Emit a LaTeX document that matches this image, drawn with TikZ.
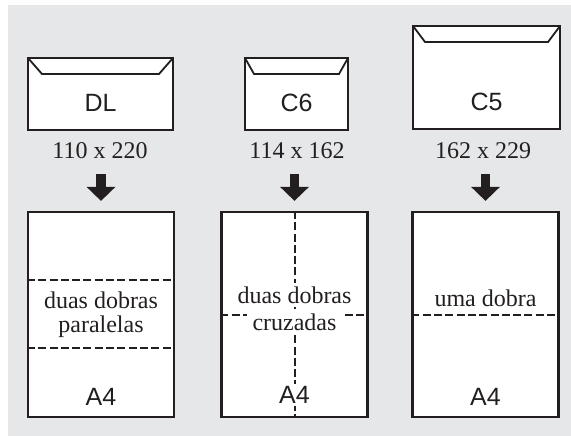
\documentclass[tikz,border=0pt]{standalone}
\usepackage{fontspec}
\setmainfont{Liberation Serif}
\setsansfont{Liberation Sans}
\usetikzlibrary{arrows.meta,positioning,calc}
\definecolor{fundo}{HTML}{E6E7E8}
\definecolor{tinta}{HTML}{231F20}

\begin{document}
\begin{tikzpicture}[x=1pt, y=-1pt,
 env/.style={draw=tinta, line width=2.2pt, fill=white, inner sep=0pt, outer sep=0pt},
 aba/.style={draw=tinta, line width=1.8pt, line join=miter},
 folha/.style={draw=tinta, line width=2.2pt, fill=white, minimum width=146pt,
   minimum height=205pt, inner sep=0pt},
 dobra/.style={draw=tinta, line width=2pt, dash pattern=on 8pt off 3.3pt},
 sigla/.style={font=\sffamily\fontsize{25}{28}\selectfont, text=tinta},
 txt/.style={font=\fontsize{24}{24}\selectfont, text=tinta, align=center},
 seta/.style={draw=tinta, line width=9.5pt, -{Triangle[width=28pt,length=14pt]},
   shorten <=15pt, shorten >=10pt}]
\useasboundingbox (0,0) rectangle (571,436);
\fill[fundo] (8,5) rectangle (571,436);
% envelopes
\node[env, minimum width=145pt, minimum height=72pt] (envDL) at (100.5,94) {};
\draw[aba] (envDL.north west) -- ++(14,16) -- ($(envDL.north east)+(-14,16)$) -- (envDL.north east);
\node[sigla] (sDL) at (100.5,103) {DL};
\node[env, minimum width=103pt, minimum height=72pt] (envC6) at (296.5,94) {};
\draw[aba] (envC6.north west) -- ++(9,16) -- ($(envC6.north east)+(-9,16)$) -- (envC6.north east);
\node[sigla] (sC6) at (296.5,103) {C6};
\node[env, minimum width=147pt, minimum height=103pt] (envC5) at (486.5,77.5) {};
\draw[aba] (envC5.north west) -- ++(12,16) -- ($(envC5.north east)+(-12,16)$) -- (envC5.north east);
\node[sigla] (sC5) at (486.5,102) {C5};
% medidas
\node[txt, inner sep=0pt] (med1) at (100,151) {110 x 220};
\node[txt, inner sep=0pt] (med2) at (297,151) {114 x 162};
\node[txt, inner sep=0pt] (med3) at (483,151) {162 x 229};
% folhas A4
\node[folha] (folha1) at (101,314.5) {};
\node[folha] (folha2) at (294.5,314.5) {};
\node[folha] (folha3) at (485.5,314.5) {};
% dobras
\draw[dobra] (folha1.west |- 0,280) -- (folha1.east |- 0,280);
\draw[dobra] (folha1.west |- 0,348) -- (folha1.east |- 0,348);
\draw[dobra] (folha2.north) -- (folha2.south);
\draw[dobra] (folha2.west) -- (folha2.east);
\draw[dobra] (folha3.west) -- (folha3.east);
% textos das folhas
\node[txt] (t1) at (101,315) {duas dobras\\paralelas};
\node[txt, fill=white, inner xsep=1pt, inner ysep=4pt] (t2a) at (294.5,295) {duas dobras};
\node[txt, fill=white, inner xsep=6pt, inner ysep=3pt] (t2b) at (294.5,322) {cruzadas};
\node[txt] (t3) at (485.5,298) {uma dobra};
\node[sigla] (a1) at (101,397) {A4};
\node[sigla, fill=white, inner sep=2pt] (a2) at (294.5,395) {A4};
\node[sigla] (a3) at (485.5,397) {A4};
% setas
\foreach \i in {1,2,3}
  \draw[seta] (folha\i.north |- med\i.south) -- (folha\i.north);
\end{tikzpicture}
\end{document}
